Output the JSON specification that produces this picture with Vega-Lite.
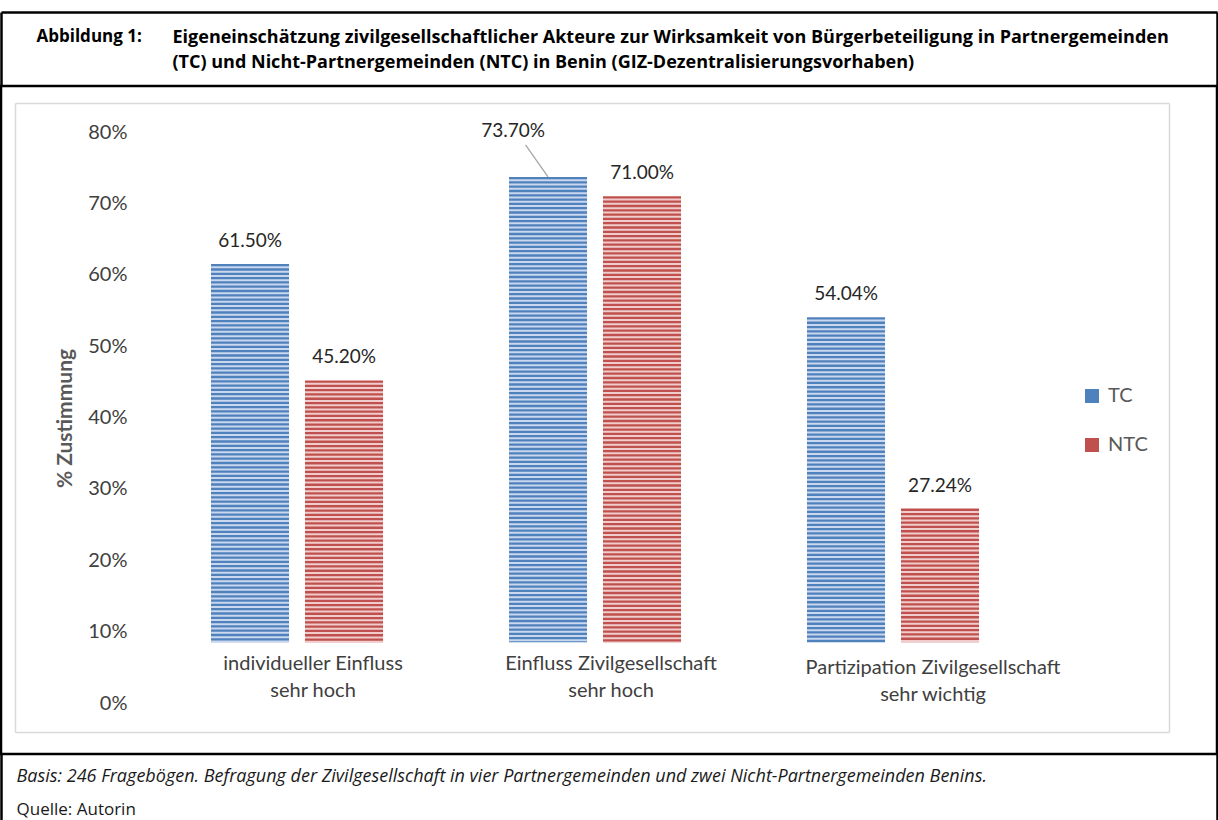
{
  "$schema": "https://vega.github.io/schema/vega-lite/v6.json",
  "width": 1216,
  "height": 668,
  "autosize": "none",
  "padding": {"left": 1, "top": 86, "right": 1, "bottom": 66},
  "background": "#ffffff",
  "config": {
    "view": {"stroke": "#000000", "strokeWidth": 2.5},
    "axis": {"titleLimit": 3000, "labelLimit": 600}
  },
  "datasets": {
    "bars": [
      {"category": "individueller Einfluss sehr hoch", "series": "TC", "value": 0.615},
      {"category": "individueller Einfluss sehr hoch", "series": "NTC", "value": 0.452},
      {"category": "Einfluss Zivilgesellschaft sehr hoch", "series": "TC", "value": 0.737},
      {"category": "Einfluss Zivilgesellschaft sehr hoch", "series": "NTC", "value": 0.71},
      {"category": "Partizipation Zivilgesellschaft sehr wichtig", "series": "TC", "value": 0.5404},
      {"category": "Partizipation Zivilgesellschaft sehr wichtig", "series": "NTC", "value": 0.2724}
    ]
  },
  "resolve": {"scale": {"x": "independent", "y": "independent"}},
  "layer": [
    {
      "data": {"name": "bars"},
      "encoding": {
        "x": {
          "field": "category", "type": "nominal", "sort": null,
          "scale": {"paddingInner": 0.4228, "paddingOuter": 0.7517, "align": 0.4688},
          "axis": {
            "orient": "bottom", "offset": -101, "domain": false, "ticks": false, "tickSize": 0,
            "labelAngle": 0, "labelBaseline": "top", "labelPadding": {"condition": {"test": "indexof(datum.value, 'Partizipation') >= 0", "value": 4}, "value": 0},
            "labelOffset": {"condition": {"test": "indexof(datum.value, 'Partizipation') >= 0", "value": 40}, "value": 16},
            "labelExpr": "[split(datum.label, ' sehr ')[0], 'sehr ' + split(datum.label, ' sehr ')[1]]",
            "labelFont": "Lato", "labelFontSize": 20, "labelLineHeight": 27, "labelColor": "#404040",
            "title": "Basis: 246 Fragebögen. Befragung der Zivilgesellschaft in vier Partnergemeinden und zwei Nicht-Partnergemeinden Benins.",
            "titleX": 15, "titleY": 123, "titleAlign": "left", "titleBaseline": "middle", "titleAnchor": "start",
            "titleFont": "Open Sans", "titleFontSize": 18, "titleFontWeight": "normal", "titleFontStyle": "italic", "titleColor": "#1a1a1a"
          }
        },
        "xOffset": {"field": "series", "type": "nominal", "sort": ["TC", "NTC"], "scale": {"paddingInner": 0.17, "paddingOuter": 0}},
        "y": {
          "field": "value", "type": "quantitative",
          "scale": {"domain": [-0.07145, 0.86445], "nice": false, "zero": false},
          "axis": {
            "orient": "left", "offset": -126, "domain": false, "ticks": false, "tickSize": 0, "grid": false,
            "values": [0, 0.1, 0.2, 0.3, 0.4, 0.5, 0.6, 0.7, 0.8], "format": ".0%",
            "labelPadding": 0, "labelFont": "Lato", "labelFontSize": 20, "labelColor": "#404040",
            "title": "% Zustimmung", "titleX": -62, "titleY": 332, "titleAngle": 270,
            "titleAlign": "center", "titleBaseline": "middle",
            "titleFont": "Lato", "titleFontSize": 21, "titleFontWeight": "bold", "titleColor": "#595959"
          }
        }
      },
      "layer": [
        {
          "mark": {"type": "bar"},
          "encoding": {
            "y2": {"datum": 0.085},
            "color": {
              "field": "series", "type": "nominal",
              "scale": {"domain": ["TC", "NTC"], "range": ["#4F81BD", "#C0504D"]},
              "legend": {
                "orient": "none", "legendX": 1081, "legendY": 300, "title": null,
                "symbolType": "square", "symbolSize": 196, "symbolStrokeWidth": 0,
                "labelFont": "Lato", "labelFontSize": 20, "labelColor": "#595959",
                "rowPadding": 29, "labelOffset": 6
              }
            }
          }
        },
        {
          "mark": {"type": "rule", "strokeWidth": 78, "strokeDash": [2, 2.3], "strokeDashOffset": 2},
          "encoding": {
            "y2": {"datum": 0.085},
            "stroke": {"condition": {"test": "datum.series === 'TC'", "value": "#C9D8EE"}, "value": "#F0CDCC"}
          }
        },
        {
          "transform": [{"filter": "datum.value !== 0.737"}],
          "mark": {"type": "text", "dy": -23, "baseline": "middle", "font": "Lato", "fontSize": 19, "color": "#262626"},
          "encoding": {"text": {"field": "value", "type": "quantitative", "format": ".2%"}}
        },
        {
          "transform": [{"filter": "datum.value === 0.737"}],
          "mark": {"type": "text", "dx": -35, "dy": -46, "baseline": "middle", "font": "Lato", "fontSize": 19, "color": "#262626"},
          "encoding": {"text": {"field": "value", "type": "quantitative", "format": ".2%"}}
        },
        {
          "transform": [{"filter": "datum.value === 0.737"}],
          "mark": {"type": "point", "shape": "M0,0L-0.703,-1", "size": 4096, "filled": false, "stroke": "#A6A6A6", "strokeWidth": 1.3, "opacity": 1}
        }
      ]
    },
    {
      "data": {"values": [{"f": 0}]},
      "mark": {"type": "rule", "opacity": 0},
      "encoding": {
        "x": {
          "datum": 0, "type": "quantitative",
          "scale": {"domain": [0, 1216], "nice": false, "zero": false},
          "axis": {
            "orient": "top", "offset": 74, "domain": true, "domainColor": "#000000", "domainWidth": 2.5,
            "ticks": true, "values": [0, 1216], "tickSize": -74, "tickColor": "#000000", "tickWidth": 2.5,
            "labels": false, "grid": false,
            "title": ["Eigeneinschätzung zivilgesellschaftlicher Akteure zur Wirksamkeit von Bürgerbeteiligung in Partnergemeinden", "(TC) und Nicht-Partnergemeinden (NTC) in Benin (GIZ-Dezentralisierungsvorhaben)"],
            "titleX": 171, "titleY": 16, "titleAlign": "left", "titleBaseline": "top", "titleAnchor": "start",
            "titleLineHeight": 25, "titleFont": "Open Sans", "titleFontSize": 18, "titleFontWeight": "bold", "titleColor": "#000000"
          }
        }
      }
    },
    {
      "data": {"values": [{"f": 0}]},
      "mark": {"type": "rule", "opacity": 0},
      "encoding": {
        "x": {
          "datum": 0, "type": "quantitative",
          "scale": {"domain": [0, 1216], "nice": false, "zero": false},
          "axis": {
            "orient": "bottom", "offset": 0, "domain": false,
            "ticks": true, "values": [0, 1216], "tickSize": 80, "tickColor": "#000000", "tickWidth": 2.5,
            "labels": false, "grid": false,
            "title": "Quelle: Autorin",
            "titleX": 15, "titleY": 55, "titleAlign": "left", "titleBaseline": "middle", "titleAnchor": "start",
            "titleFont": "Open Sans", "titleFontSize": 17, "titleFontWeight": "normal", "titleColor": "#1a1a1a"
          }
        }
      }
    },
    {
      "data": {"values": [{"f": 0}]},
      "mark": {"type": "rule", "opacity": 0},
      "encoding": {
        "x": {
          "datum": 0, "type": "quantitative",
          "scale": {"domain": [0, 1216], "nice": false, "zero": false},
          "axis": {
            "orient": "top", "offset": -17, "domain": false,
            "ticks": true, "values": [14, 1168], "tickSize": -629, "tickColor": "#D9D9D9", "tickWidth": 1.5,
            "labels": false, "grid": false,
            "title": "Abbildung 1:",
            "titleX": 35, "titleY": -67, "titleAlign": "left", "titleBaseline": "middle", "titleAnchor": "start",
            "titleFont": "Open Sans", "titleFontSize": 17, "titleFontWeight": "bold", "titleColor": "#000000"
          }
        }
      }
    },
    {
      "data": {"values": [{"f": 0}]},
      "mark": {"type": "rule", "opacity": 0},
      "encoding": {
        "y": {
          "datum": 0, "type": "quantitative",
          "scale": {"domain": [0, 668], "nice": false, "zero": false, "reverse": true},
          "axis": {
            "orient": "left", "offset": -14, "domain": false,
            "ticks": true, "values": [17, 646], "tickSize": -1154, "tickColor": "#D9D9D9", "tickWidth": 1.5,
            "labels": false, "grid": false, "title": null
          }
        }
      }
    }
  ]
}
